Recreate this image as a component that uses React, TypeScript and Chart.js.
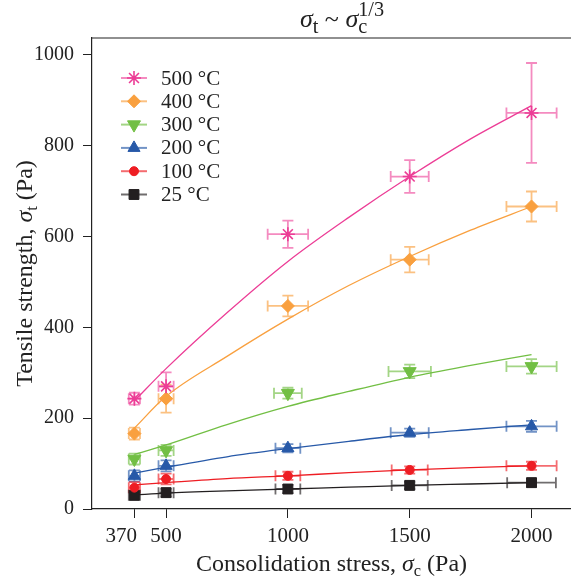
import React, { useEffect, useRef } from 'react';
import { Chart, registerables } from 'chart.js';
import { drawPoint } from 'chart.js/helpers';

Chart.register(...registerables);

const WIDTH = 571;
const HEIGHT = 579;
const SERIF = '"Liberation Serif", "Times New Roman", serif';

// Consolidation stress levels (Pa)
const stressLevels = [370, 500, 1000, 1500, 2000];
const yTicks = [0, 200, 400, 600, 800, 1000];
const temperatureLabels = ['500 °C', '400 °C', '300 °C', '200 °C', '100 °C', '25 °C'];

// Mean tensile strength (Pa) per temperature
const strength500 = [243, 270, 605, 732, 872];
const strength400 = [166, 243, 447, 549, 666];
const strength300 = [110, 129, 255, 303, 314];
const strength200 = [73, 95, 134, 168, 182];
const strength100 = [47, 66, 73, 86, 95];
const strength25 = [30, 36, 44, 52, 58];

// Standard deviation of tensile strength (Pa)
const strengthErr500 = [13, 31, 30, 36, 110];
const strengthErr400 = [13, 31, 23, 28, 33];
const strengthErr300 = [12, 12, 12, 15, 16];
const strengthErr200 = [12, 12, 9, 9, 12];
const strengthErr100 = [12, 12, 9, 8, 9];
const strengthErr25 = [9, 9, 9, 8, 9];

// Spread of the applied consolidation stress (Pa)
const stressErr500 = [23, 31, 83, 78, 103];
const stressErr400 = [23, 31, 83, 78, 103];
const stressErr300 = [23, 31, 57, 87, 103];
const stressErr200 = [23, 31, 51, 78, 103];
const stressErr100 = [23, 31, 51, 74, 103];
const stressErr25 = [23, 31, 51, 74, 100];

// Fitted sigma_t ~ sigma_c^(1/3) curves
const fitStress = [370, 500, 750, 1000, 1250, 1500, 1750, 2000];
const fit500 = [238, 309, 432, 545, 642, 732, 815, 888];
const fit400 = [178, 248, 336, 418, 492, 556, 614, 666];
const fit300 = [120, 141, 186, 226, 259, 290, 316, 340];
const fit200 = [79, 92, 115, 133, 149, 164, 175, 185];
const fit100 = [53, 58, 67, 73, 80, 86, 91, 95];
const fit25 = [31, 35, 40, 44, 48, 52, 55, 58];

const seriesStyles = [
  { color: '#EC3D96', errColor: 'rgba(236,61,150,0.6)', pointStyle: 'star', radius: 7, rotation: 0, borderWidth: 1.6 },
  { color: '#F9A03F', errColor: 'rgba(249,160,63,0.65)', pointStyle: 'rectRot', radius: 6.5, rotation: 0, borderWidth: 1 },
  { color: '#72BF44', errColor: 'rgba(114,191,68,0.65)', pointStyle: 'triangle', radius: 7.5, rotation: 180, borderWidth: 1 },
  { color: '#2759A8', errColor: 'rgba(39,89,168,0.65)', pointStyle: 'triangle', radius: 7, rotation: 0, borderWidth: 1 },
  { color: '#EE1D23', errColor: 'rgba(238,29,35,0.65)', pointStyle: 'circle', radius: 4.5, rotation: 0, borderWidth: 1 },
  { color: '#231F20', errColor: 'rgba(35,31,32,0.65)', pointStyle: 'rect', radius: 7, rotation: 0, borderWidth: 1 },
];

const groups = [
  { strength: strength500, sErr: strengthErr500, cErr: stressErr500, fit: fit500 },
  { strength: strength400, sErr: strengthErr400, cErr: stressErr400, fit: fit400 },
  { strength: strength300, sErr: strengthErr300, cErr: stressErr300, fit: fit300 },
  { strength: strength200, sErr: strengthErr200, cErr: stressErr200, fit: fit200 },
  { strength: strength100, sErr: strengthErr100, cErr: stressErr100, fit: fit100 },
  { strength: strength25, sErr: strengthErr25, cErr: stressErr25, fit: fit25 },
];

type Seg = { t: string; italic?: boolean; sub?: string; sup?: string };

function richWidth(ctx: CanvasRenderingContext2D, segs: Seg[], size: number, scriptScale: number) {
  let w = 0;
  for (const s of segs) {
    ctx.font = `${s.italic ? 'italic ' : ''}${size}px ${SERIF}`;
    w += ctx.measureText(s.t).width;
    ctx.font = `${size * scriptScale}px ${SERIF}`;
    const a = s.sub ? ctx.measureText(s.sub).width : 0;
    const b = s.sup ? ctx.measureText(s.sup).width : 0;
    w += Math.max(a, b);
  }
  return w;
}

// Draws text with sub/superscripts, centred on cx, baseline at by
function drawRich(ctx: CanvasRenderingContext2D, segs: Seg[], cx: number, by: number, size: number, scriptScale = 0.68) {
  ctx.save();
  ctx.fillStyle = '#222';
  ctx.textBaseline = 'alphabetic';
  ctx.textAlign = 'left';
  let x = cx - richWidth(ctx, segs, size, scriptScale) / 2;
  for (const s of segs) {
    ctx.font = `${s.italic ? 'italic ' : ''}${size}px ${SERIF}`;
    ctx.fillText(s.t, x, by);
    x += ctx.measureText(s.t).width;
    ctx.font = `${size * scriptScale}px ${SERIF}`;
    let adv = 0;
    if (s.sub) {
      ctx.fillText(s.sub, x, by + size * 0.22);
      adv = ctx.measureText(s.sub).width;
    }
    if (s.sup) {
      ctx.fillText(s.sup, x, by - size * 0.42);
      adv = Math.max(adv, ctx.measureText(s.sup).width);
    }
    x += adv;
  }
  ctx.restore();
}

const errorBarPlugin = {
  id: 'errorBars',
  beforeDatasetsDraw(chart: any) {
    const { ctx, scales } = chart;
    const xs = scales.x;
    const ys = scales.y;
    const cap = 5.5;
    chart.data.datasets.forEach((ds: any) => {
      if (!ds.errInfo) return;
      ctx.save();
      ctx.strokeStyle = ds.errInfo.color;
      ctx.lineWidth = 1.8;
      ds.data.forEach((p: any, j: number) => {
        const px = xs.getPixelForValue(p.x);
        const py = ys.getPixelForValue(p.y);
        const x0 = xs.getPixelForValue(p.x - ds.errInfo.cErr[j]);
        const x1 = xs.getPixelForValue(p.x + ds.errInfo.cErr[j]);
        const y0 = ys.getPixelForValue(p.y - ds.errInfo.sErr[j]);
        const y1 = ys.getPixelForValue(p.y + ds.errInfo.sErr[j]);
        ctx.beginPath();
        ctx.moveTo(x0, py); ctx.lineTo(x1, py);
        ctx.moveTo(x0, py - cap); ctx.lineTo(x0, py + cap);
        ctx.moveTo(x1, py - cap); ctx.lineTo(x1, py + cap);
        ctx.moveTo(px, y0); ctx.lineTo(px, y1);
        ctx.moveTo(px - cap, y0); ctx.lineTo(px + cap, y0);
        ctx.moveTo(px - cap, y1); ctx.lineTo(px + cap, y1);
        ctx.stroke();
      });
      ctx.restore();
    });
  },
};

const decorPlugin = {
  id: 'decor',
  afterDraw(chart: any) {
    const { ctx, chartArea, scales } = chart;
    const { left, right, top, bottom } = chartArea;
    ctx.save();
    // top edge of the frame (the right edge falls outside the canvas)
    ctx.strokeStyle = '#222';
    ctx.lineWidth = 1.2;
    ctx.beginPath();
    ctx.moveTo(left, top); ctx.lineTo(WIDTH, top);
    ctx.stroke();

    // x tick labels (the first one is pushed left so it clears its neighbour)
    ctx.fillStyle = '#222';
    ctx.font = `21px ${SERIF}`;
    ctx.textBaseline = 'alphabetic';
    stressLevels.forEach((v, i) => {
      const px = scales.x.getPixelForValue(v);
      if (i === 0) {
        ctx.textAlign = 'right';
        ctx.fillText(String(v), px + 2.5, 542);
      } else {
        ctx.textAlign = 'center';
        ctx.fillText(String(v), px, 542);
      }
    });

    // title
    drawRich(ctx, [{ t: 'σ', italic: true, sub: 't' }, { t: ' ~ ' }, { t: 'σ', italic: true, sub: 'c', sup: '1/3' }], 342, 27, 26, 0.78);
    // x-axis title
    drawRich(ctx, [{ t: 'Consolidation stress, ' }, { t: 'σ', italic: true, sub: 'c' }, { t: ' (Pa)' }], (left + right) / 2, 571, 24);
    // y-axis title
    ctx.save();
    ctx.translate(32, (top + bottom) / 2);
    ctx.rotate(-Math.PI / 2);
    drawRich(ctx, [{ t: 'Tensile strength, ' }, { t: 'σ', italic: true, sub: 't' }, { t: ' (Pa)' }], 0, 0, 24);
    ctx.restore();

    // legend
    temperatureLabels.forEach((label, i) => {
      const st = seriesStyles[i];
      const yy = 78 + i * 23.3;
      ctx.strokeStyle = st.errColor;
      ctx.lineWidth = 2;
      ctx.beginPath();
      ctx.moveTo(121, yy); ctx.lineTo(147, yy);
      ctx.stroke();
      ctx.fillStyle = st.color;
      ctx.strokeStyle = st.color;
      ctx.lineWidth = st.borderWidth;
      drawPoint(ctx, { pointStyle: st.pointStyle, radius: st.radius, rotation: st.rotation, borderWidth: st.borderWidth }, 134, yy);
      ctx.fillStyle = '#222';
      ctx.font = `21px ${SERIF}`;
      ctx.textBaseline = 'middle';
      ctx.textAlign = 'left';
      ctx.fillText(label, 161, yy + 1);
    });
    ctx.restore();
  },
};

export default function App() {
  const canvasRef = useRef<HTMLCanvasElement | null>(null);

  useEffect(() => {
    const canvas = canvasRef.current;
    if (!canvas) return;

    const markerSets = groups.map((g, i) => {
      const st = seriesStyles[i];
      return {
        label: temperatureLabels[i],
        data: stressLevels.map((x, j) => ({ x, y: g.strength[j] })),
        errInfo: { sErr: g.sErr, cErr: g.cErr, color: st.errColor },
        pointStyle: st.pointStyle,
        pointRadius: st.radius,
        pointRotation: st.rotation,
        pointBorderWidth: st.borderWidth,
        backgroundColor: st.color,
        borderColor: st.color,
        showLine: false,
      };
    });
    const fitSets = groups.map((g, i) => ({
      label: temperatureLabels[i] + ' fit',
      data: fitStress.map((x, j) => ({ x, y: g.fit[j] })),
      showLine: true,
      pointRadius: 0,
      borderColor: seriesStyles[i].color,
      borderWidth: 1.3,
      cubicInterpolationMode: 'monotone',
      fill: false,
    }));

    const chart = new Chart(canvas, {
      type: 'scatter',
      data: { datasets: [...markerSets, ...fitSets] as any },
      options: {
        responsive: false,
        animation: false,
        layout: { autoPadding: false, padding: { left: 0, right: 0, top: 38, bottom: 0 } },
        plugins: { legend: { display: false }, tooltip: { enabled: false }, title: { display: false } },
        scales: {
          x: {
            type: 'linear',
            min: 196,
            max: 2162,
            afterBuildTicks: (scale: any) => { scale.ticks = stressLevels.map((v) => ({ value: v })); },
            afterFit: (scale: any) => {
              scale.height = 70;
              scale.paddingLeft = 0;
              scale.paddingRight = 0;
            },
            border: { display: true, color: '#222', width: 1.2 },
            grid: { display: true, drawOnChartArea: false, drawTicks: true, tickLength: 9, color: '#222', lineWidth: 1 },
            ticks: { display: false, autoSkip: false, maxRotation: 0 },
          },
          y: {
            type: 'linear',
            min: 0,
            max: 1037,
            afterBuildTicks: (scale: any) => { scale.ticks = yTicks.map((v) => ({ value: v })); },
            afterFit: (scale: any) => {
              scale.width = 92;
              scale.paddingTop = 0;
              scale.paddingBottom = 0;
            },
            border: { display: true, color: '#222', width: 1.2 },
            grid: { display: true, drawOnChartArea: false, drawTicks: true, tickLength: 9, color: '#222', lineWidth: 1 },
            ticks: { autoSkip: false, padding: 9, color: '#222', font: { family: SERIF, size: 20 }, callback: (v: any) => String(v) },
          },
        },
      } as any,
      plugins: [errorBarPlugin, decorPlugin],
    });

    return () => chart.destroy();
  }, []);

  return (
    <div style={{ position: 'fixed', left: 0, top: 0, width: WIDTH, height: HEIGHT, background: '#fff' }}>
      <canvas ref={canvasRef} width={WIDTH} height={HEIGHT} style={{ display: 'block' }} />
    </div>
  );
}
